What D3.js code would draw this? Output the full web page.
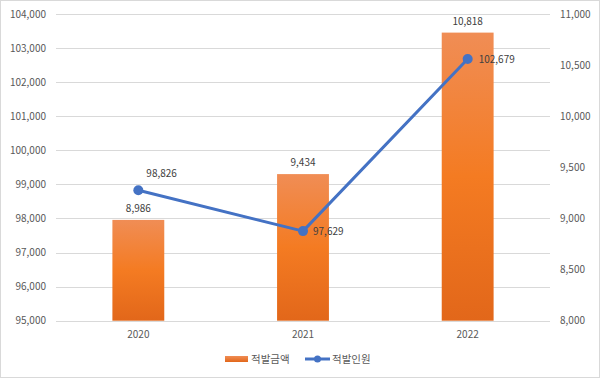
<!DOCTYPE html>
<html><head><meta charset="utf-8">
<script src="https://cdn.jsdelivr.net/npm/d3@7"></script>
<style>html,body{margin:0;padding:0;background:#fff}svg{display:block}</style>
</head><body>
<svg id="c" width="600" height="378"></svg>
<script>
const categories = ["2020", "2021", "2022"];
const barValues = [8986, 9434, 10818];      // 적발금액 (right axis)
const lineValues = [98826, 97629, 102679];  // 적발인원 (left axis)
const leftTicks = [95000, 96000, 97000, 98000, 99000, 100000, 101000, 102000, 103000, 104000];
const rightTicks = [8000, 8500, 9000, 9500, 10000, 10500, 11000];
const seriesNames = ["적발금액", "적발인원"];

const svg = d3.select("#c");
const W = 600, H = 378;
const m = {l: 56, r: 50, t: 14, b: 57.3};
const font = "'Noto Sans CJK KR', 'Noto Sans', sans-serif";

svg.append("rect").attr("x", 0.5).attr("y", 0.5).attr("width", W - 1).attr("height", H - 1)
  .attr("fill", "#fff").attr("stroke", "#D9D9D9");

const x = d3.scaleBand().domain(categories).range([m.l, W - m.r]).paddingInner(0.685).paddingOuter(0.3425);
const yL = d3.scaleLinear().domain([95000, 104000]).range([H - m.b, m.t]);
const yR = d3.scaleLinear().domain([8000, 11000]).range([H - m.b, m.t]);
const fmt = d3.format(",");

// gridlines
svg.append("g").selectAll("line").data(leftTicks).join("line")
  .attr("x1", m.l).attr("x2", W - m.r)
  .attr("y1", d => Math.round(yL(d)) + 0.5).attr("y2", d => Math.round(yL(d)) + 0.5)
  .attr("stroke", "#D9D9D9").attr("stroke-width", 1);

// left axis
const gl = svg.append("g").attr("transform", `translate(${m.l - 10},0)`)
  .call(d3.axisLeft(yL).tickValues(leftTicks).tickFormat(fmt).tickSize(0).tickPadding(0));
gl.select(".domain").remove();
gl.selectAll("text").attr("font-family", font).attr("font-size", 10).attr("fill", "#595959");

// right axis
const gr = svg.append("g").attr("transform", `translate(${W - m.r + 10},0)`)
  .call(d3.axisRight(yR).tickValues(rightTicks).tickFormat(fmt).tickSize(0).tickPadding(0));
gr.select(".domain").remove();
gr.selectAll("text").attr("font-family", font).attr("font-size", 10).attr("fill", "#595959");

// x axis
const gx = svg.append("g").attr("transform", `translate(0,${H - m.b + 10})`)
  .call(d3.axisBottom(x).tickSize(0).tickPadding(0));
gx.select(".domain").remove();
gx.selectAll("text").attr("font-family", font).attr("font-size", 10).attr("fill", "#595959");

// gradient
const defs = svg.append("defs");
const grad = defs.append("linearGradient").attr("id", "bg").attr("x1", 0).attr("y1", 0).attr("x2", 0).attr("y2", 1);
grad.append("stop").attr("offset", "0%").attr("stop-color", "#F08D55");
grad.append("stop").attr("offset", "50%").attr("stop-color", "#F47B22");
grad.append("stop").attr("offset", "100%").attr("stop-color", "#E2671A");
const grad2 = defs.append("linearGradient").attr("id", "lg").attr("x1", 0).attr("y1", 0).attr("x2", 0).attr("y2", 1);
grad2.append("stop").attr("offset", "0%").attr("stop-color", "#F08D55");
grad2.append("stop").attr("offset", "100%").attr("stop-color", "#E2671A");

// bars
svg.append("g").selectAll("rect").data(barValues).join("rect")
  .attr("x", (d, i) => x(categories[i]))
  .attr("width", x.bandwidth())
  .attr("y", d => yR(d))
  .attr("height", d => yR(8000) - yR(d))
  .attr("fill", "url(#bg)");

// bar labels
svg.append("g").selectAll("text").data(barValues).join("text")
  .attr("x", (d, i) => x(categories[i]) + x.bandwidth() / 2)
  .attr("y", d => yR(d) - 8)
  .attr("text-anchor", "middle")
  .attr("font-family", font).attr("font-size", 10).attr("fill", "#404040")
  .text(d => fmt(d));

// line
const cx = (i) => x(categories[i]) + x.bandwidth() / 2;
svg.append("path").datum(lineValues)
  .attr("d", d3.line().x((d, i) => cx(i)).y(d => yL(d)))
  .attr("fill", "none").attr("stroke", "#4472C4").attr("stroke-width", 3).attr("stroke-linejoin", "round");
svg.append("g").selectAll("circle").data(lineValues).join("circle")
  .attr("cx", (d, i) => cx(i)).attr("cy", d => yL(d)).attr("r", 5)
  .attr("fill", "#4472C4");

// line labels
const lblOff = [[8, -13, "start"], [10, 4, "start"], [11, 4, "start"]];
svg.append("g").selectAll("text").data(lineValues).join("text")
  .attr("x", (d, i) => cx(i) + lblOff[i][0])
  .attr("y", (d, i) => yL(d) + lblOff[i][1])
  .attr("text-anchor", (d, i) => lblOff[i][2])
  .attr("font-family", font).attr("font-size", 10).attr("fill", "#404040")
  .text(d => fmt(d));

// legend
const lg = svg.append("g");
lg.append("rect").attr("x", 225).attr("y", 356).attr("width", 23).attr("height", 6).attr("fill", "url(#lg)");
lg.append("text").attr("x", 251).attr("y", 363).attr("font-family", font).attr("font-size", 10.5).attr("fill", "#595959").text(seriesNames[0]);
lg.append("line").attr("x1", 305).attr("x2", 330).attr("y1", 359).attr("y2", 359).attr("stroke", "#4472C4").attr("stroke-width", 3);
lg.append("circle").attr("cx", 317.5).attr("cy", 359).attr("r", 3.5).attr("fill", "#4472C4");
lg.append("text").attr("x", 332).attr("y", 363).attr("font-family", font).attr("font-size", 10.5).attr("fill", "#595959").text(seriesNames[1]);
</script>
</body></html>
